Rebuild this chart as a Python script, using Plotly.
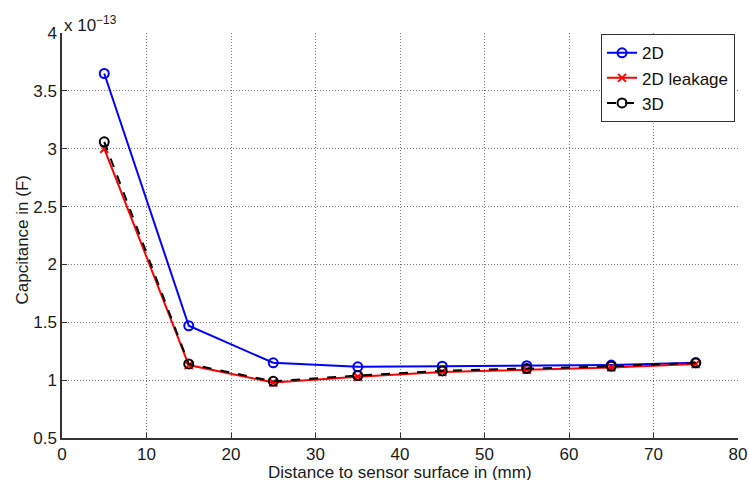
import plotly.graph_objects as go

distance_mm = [5, 15, 25, 35, 45, 55, 65, 75]
cap_2d = [3.65, 1.47, 1.15, 1.115, 1.12, 1.125, 1.13, 1.15]
cap_2d_leak = [3.00, 1.13, 0.98, 1.03, 1.07, 1.09, 1.11, 1.14]
cap_3d = [3.06, 1.14, 0.99, 1.04, 1.08, 1.10, 1.12, 1.15]
x_ticks = [0, 10, 20, 30, 40, 50, 60, 70, 80]
y_ticks = [0.5, 1, 1.5, 2, 2.5, 3, 3.5, 4]

FONT = "Liberation Sans, Arial, sans-serif"
TXT = "#1a1a1a"

fig = go.Figure()
fig.add_trace(go.Scatter(x=distance_mm, y=cap_2d, name="2D", mode="lines+markers",
                         line=dict(color="#0000ff", width=2),
                         marker=dict(symbol="circle-open", size=9, color="#0000ff", line=dict(width=2))))
fig.add_trace(go.Scatter(x=distance_mm, y=cap_2d_leak, name="2D leakage", mode="lines+markers",
                         line=dict(color="#ff0000", width=2),
                         marker=dict(symbol="x-thin-open", size=8, color="#ff0000", line=dict(width=2, color="#ff0000"))))
fig.add_trace(go.Scatter(x=distance_mm, y=cap_3d, name="3D", mode="lines+markers",
                         line=dict(color="#000000", width=2, dash="dash"),
                         marker=dict(symbol="circle-open", size=9, color="#000000", line=dict(width=2))))

axis_common = dict(
    showline=True, linecolor="#333333", linewidth=1.5,
    ticks="inside", ticklen=5, tickcolor="#333333",
    showgrid=True, gridcolor="#777777", griddash="1px,2px", gridwidth=1,
    zeroline=False, mirror=False, automargin=False,
    tickfont=dict(family=FONT, size=17, color=TXT),
)

fig.update_xaxes(range=[0, 80], tickvals=x_ticks, ticktext=[str(v) for v in x_ticks],
                 ticklabelstandoff=0, **axis_common)
fig.update_yaxes(range=[0.5, 4], tickvals=y_ticks, ticktext=[f"{v:g}" for v in y_ticks],
                 ticklabelstandoff=0, **axis_common)

fig.add_annotation(xref="paper", yref="paper", x=0.5, y=0, xanchor="center", yanchor="top",
                   text="Distance to sensor surface in (mm)", showarrow=False, yshift=-23,
                   font=dict(family=FONT, size=17, color=TXT))
fig.add_annotation(xref="paper", yref="paper", x=0, y=0.5, xanchor="center", yanchor="middle",
                   text="Capcitance in (F)", showarrow=False, textangle=-90, xshift=-40, yshift=-5,
                   font=dict(family=FONT, size=17, color=TXT))
fig.add_annotation(xref="paper", yref="paper", x=0.0, y=1.0, xanchor="left", yanchor="bottom",
                   text="x 10<sup>−13</sup>", showarrow=False,
                   font=dict(family=FONT, size=17, color=TXT), yshift=-4)

fig.update_layout(
    width=749, height=480,
    margin=dict(l=62, r=11, t=33, b=42),
    plot_bgcolor="white", paper_bgcolor="white",
    font=dict(family=FONT, size=17, color=TXT),
    legend=dict(x=0.9956, y=0.997, xanchor="right", yanchor="top",
                bgcolor="white", bordercolor="#333333", borderwidth=1,
                font=dict(family=FONT, size=17, color="#111111"),
                tracegroupgap=0, itemwidth=30),
    showlegend=True,
)

# remove the default 8px page margin so the figure fills the window exactly
fig.write_html("out.html", config={"displayModeBar": False},
               post_script="document.body.style.margin='0';document.body.style.overflow='hidden';")
